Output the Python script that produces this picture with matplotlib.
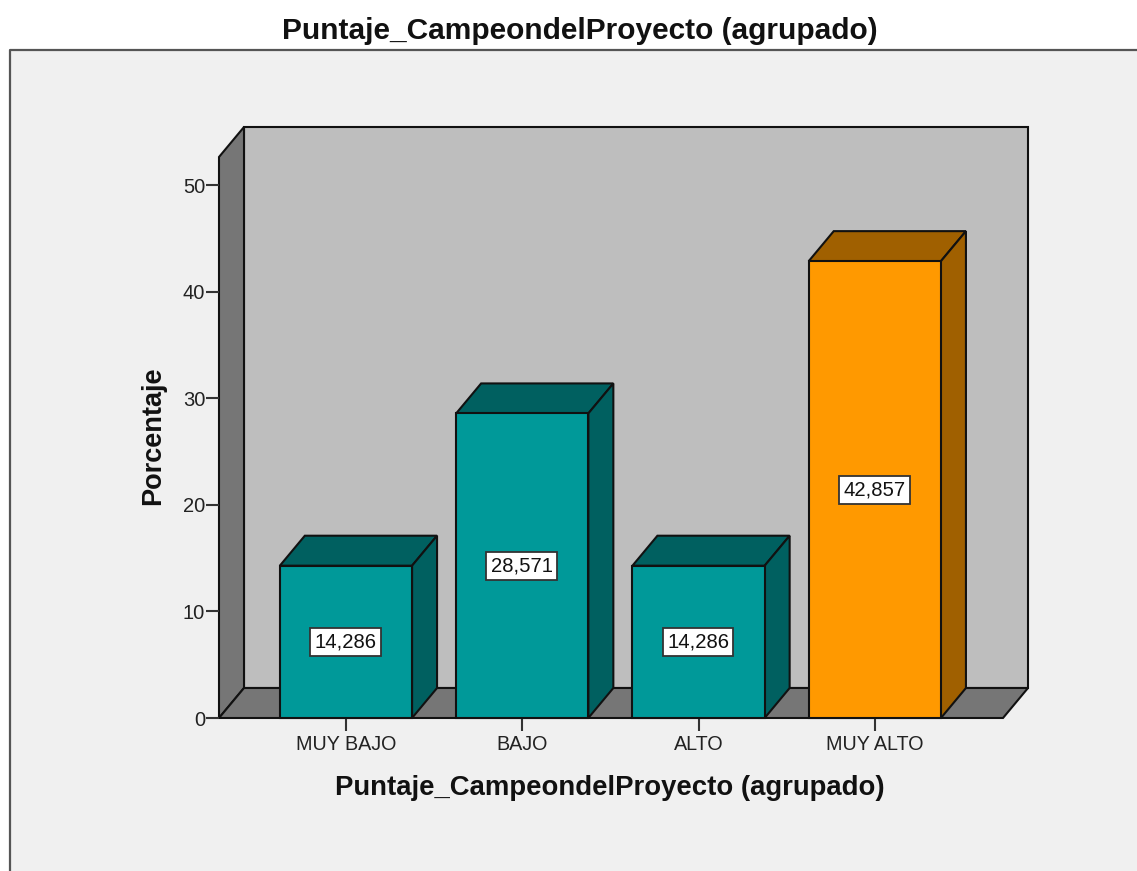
import matplotlib
matplotlib.use('Agg')
import matplotlib.pyplot as plt
from matplotlib.patches import Polygon, Rectangle

categories = ['MUY BAJO', 'BAJO', 'ALTO', 'MUY ALTO']
values = [14.286, 28.571, 14.286, 42.857]
labels = ['14,286', '28,571', '14,286', '42,857']
y_ticks = [0, 10, 20, 30, 40, 50]

W, H = 1137, 871
plt.rcParams['font.family'] = ['Liberation Sans', 'DejaVu Sans']

fig = plt.figure(figsize=(W / 100, H / 100), dpi=100, facecolor='white')

# grey panel behind the chart, open at right and bottom
fig.add_artist(Rectangle((9.5 / W, 0), (W - 9.5) / W, 1 - 50.5 / H, transform=fig.transFigure,
                         facecolor='#f0f0f0', edgecolor='none', zorder=-2))
fig.add_artist(plt.Line2D([9.5 / W, 9.5 / W, 1], [0, 1 - 50.5 / H, 1 - 50.5 / H], color='#555555', lw=1.6, zorder=-1))

# axes box = front floor edge and left wall, pixels
left, right, y0, y50 = 219, 1003, 718, 185
per_unit = (y0 - y50) / 50
top = (y0 - 157) / per_unit
ax = fig.add_axes([left / W, 1 - y0 / H, (right - left) / W, (y0 - 157) / H])
ax.set_xlim(-0.72, 3.727)
ax.set_ylim(0, top)
ax.patch.set_alpha(0)
for s in ax.spines.values():
    s.set_visible(False)

# depth of the fake 3d, in data units
dx = 25 / ((right - left) / (3.727 + 0.72))
dy = 30 / per_unit
bar_w = 0.75
x0, x1 = ax.get_xlim()
edge = '#111111'
lw = 1.5


def poly(pts, color, z):
    ax.add_patch(Polygon(pts, closed=True, facecolor=color, edgecolor=edge, lw=lw,
                         joinstyle='miter', clip_on=False, zorder=z))


poly([(x0 + dx, dy), (x1 + dx, dy), (x1 + dx, top + dy), (x0 + dx, top + dy)], '#bebebe', 1)
poly([(x0, 0), (x0 + dx, dy), (x0 + dx, top + dy), (x0, top)], '#767676', 1.1)
poly([(x0, 0), (x1, 0), (x1 + dx, dy), (x0 + dx, dy)], '#767676', 1.1)

colors = ['#009999', '#009999', '#009999', '#ff9900']
dark = ['#006060', '#006060', '#006060', '#a06000']

for i, v in enumerate(values):
    a, b = i - bar_w / 2, i + bar_w / 2
    poly([(a, v), (b, v), (b + dx, v + dy), (a + dx, v + dy)], dark[i], 2)
    poly([(b, 0), (b + dx, dy), (b + dx, v + dy), (b, v)], dark[i], 2)
    ax.bar(i, v, width=bar_w, color=colors[i], edgecolor=edge, lw=lw, zorder=3, clip_on=False)
    ax.text(i - 0.003, v / 2, labels[i], ha='center', va='center', fontsize=14.6, color='#111111', zorder=5,
            bbox=dict(boxstyle='square,pad=0.22', facecolor='white', edgecolor='#333333', lw=1.3))

ax.set_xticks(range(len(categories)))
ax.set_xticklabels(categories)
ax.set_yticks(y_ticks)
ax.tick_params(axis='x', length=9.5, width=1.5, color='#333333', labelsize=14.2, pad=3, labelcolor='#222222')
ax.tick_params(axis='y', length=9.5, width=1.5, color='#333333', labelsize=14.5, pad=0.5, labelcolor='#222222')

fig.text(580 / W, 1 - 31 / H, 'Puntaje_CampeondelProyecto (agrupado)', ha='center', va='center',
         fontsize=21.5, fontweight='bold', color='#111111')
fig.text(610 / W, 1 - 788 / H, 'Puntaje_CampeondelProyecto (agrupado)', ha='center', va='center',
         fontsize=19.8, fontweight='bold', color='#111111')
fig.text(153 / W, 1 - 436 / H, 'Porcentaje', ha='center', va='center', rotation=90,
         fontsize=19.5, fontweight='bold', color='#111111')

fig.savefig('out.png', dpi=100, facecolor='white')
